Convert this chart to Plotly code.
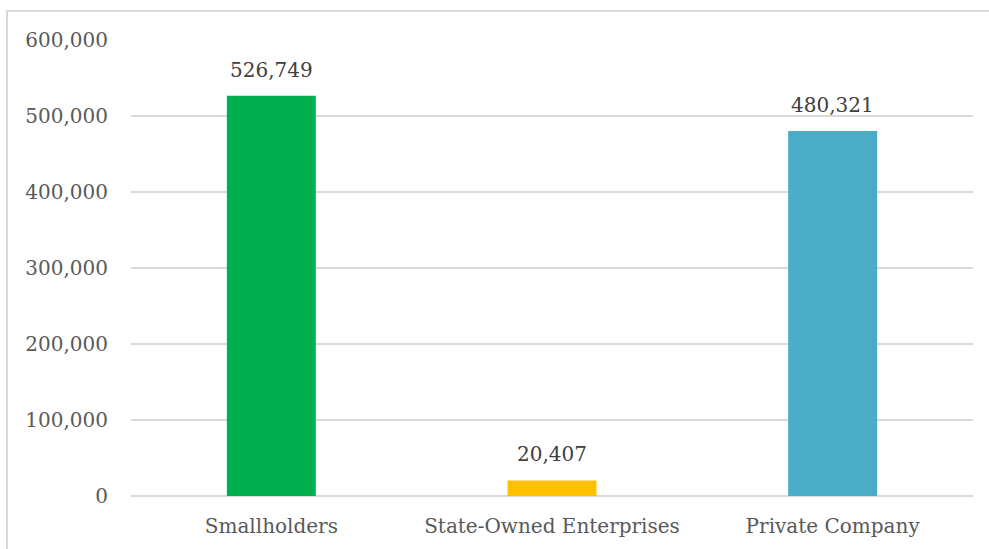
import plotly.graph_objects as go

categories = ["Smallholders", "State-Owned Enterprises", "Private Company"]
values = [526749, 20407, 480321]
colors = ["#00B050", "#FFC000", "#4BACC6"]
tick_vals = [0, 100000, 200000, 300000, 400000, 500000, 600000]
tick_text = ["0", "100,000", "200,000", "300,000", "400,000", "500,000", "600,000"]

W, H = 989, 549
ml, mr, mt, mb = 131, 16, 40, 53
pw, ph = W - ml - mr, H - mt - mb

fig = go.Figure()
fig.add_trace(go.Bar(x=categories, y=values, marker=dict(color=colors, line=dict(width=0)),
                     hoverinfo="skip"))

for c, v in zip(categories, values):
    fig.add_annotation(x=c, y=v, text=f"{v:,}", showarrow=False, yanchor="bottom",
                       yshift=12, font=dict(family="DejaVu Serif", size=20, color="#404040"))

def px_x(p):
    return (p - ml) / pw

def px_y(p):
    return (H - mb - p) / ph

fig.add_shape(type="rect", xref="paper", yref="paper",
              x0=px_x(7), x1=px_x(1000), y0=px_y(570), y1=px_y(11),
              line=dict(color="#d9d9d9", width=2), fillcolor="rgba(0,0,0,0)", layer="below")

fig.update_layout(
    width=W, height=H,
    margin=dict(l=ml, r=mr, t=mt, b=mb),
    paper_bgcolor="white", plot_bgcolor="white",
    bargap=0.683,
    showlegend=False,
    font=dict(family="DejaVu Serif", size=20, color="#595959"),
    xaxis=dict(showgrid=False, showline=False, zeroline=False, ticks="outside", ticklen=12,
               tickcolor="rgba(0,0,0,0)", tickfont=dict(size=20, color="#595959")),
    yaxis=dict(range=[0, 600000], tickvals=tick_vals, ticktext=tick_text,
               showgrid=True, gridcolor="#d9d9d9", gridwidth=1.5, zeroline=True,
               zerolinecolor="#d9d9d9", zerolinewidth=1.5, showline=False,
               ticklabelstandoff=22, tickfont=dict(size=20, color="#595959")),
)

fig.write_html("out.html")
